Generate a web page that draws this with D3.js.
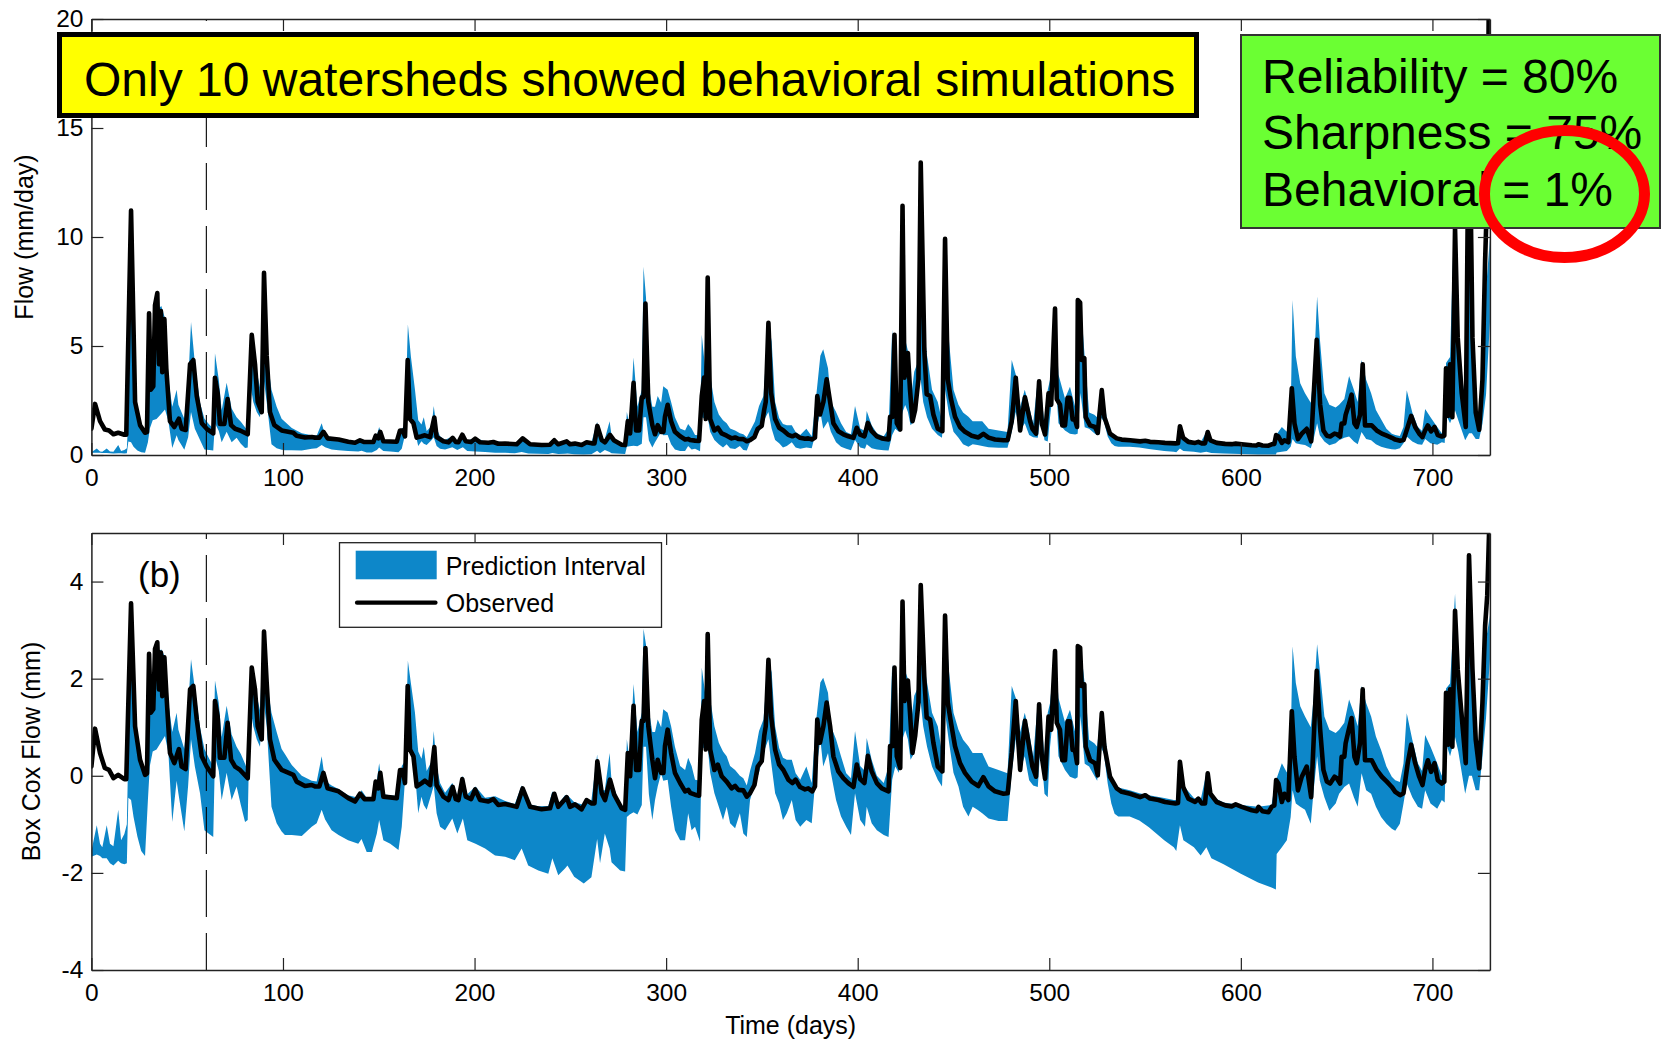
<!DOCTYPE html>
<html>
<head>
<meta charset="utf-8">
<script src="https://cdn.jsdelivr.net/npm/d3@7"></script>
<style>
body { margin: 0; background: #fff; }
svg { display: block; font-family: "Liberation Sans", Arial, sans-serif; }
</style>
</head>
<body>
<svg id="chart" width="1666" height="1041"></svg>
<script>
// values read in Box-Cox space (lambda = 0.3), [day, value]
var observed = [[0,0.19],[1.9,0.97],[4.5,0.47],[7,0.16],[9.2,0.12],[11.5,-0.05],[14,0.02],[17.2,-0.07],[18.2,-0.07],
	[20.7,3.55],[22.8,1.02],[25.4,0.33],[28,0.02],[29,0.05],[30.1,2.51],[31,1.3],[32.3,1.37],[33.2,2.61],[34.4,2.75],
	[35.3,1.78],[36.3,2.54],[37,1.64],[38.1,2.44],[39.1,1.71],[41,0.47],[43.3,0.26],[45.7,0.55],[47.1,0.19],[49.2,0.14],
	[51.5,1.78],[53.2,1.85],[55,1.16],[57.6,0.4],[60.2,0.19],[63.6,-0.01],[64.5,1.54],[65.9,1.23],[67.1,0.37],[69.4,0.37],
	[71.1,1.09],[72.9,0.33],[75,0.19],[77.6,0.12],[81.6,-0.05],[83.7,2.23],[85.4,1.78],[86.8,1.02],[88.9,0.75],[90.1,2.97],
	[91.5,1.92],[93.2,0.75],[95.5,0.33],[99.3,0.12],[105.4,0.02],[107.1,-0.12],[111.5,-0.21],[115,-0.19],[116.7,-0.22],
	[119,-0.22],[121.1,0.06],[123.3,-0.26],[129,-0.32],[134.1,-0.46],[137.6,-0.53],[140.2,-0.37],[142.5,-0.48],[147.2,-0.48],
	[148.4,-0.12],[149.8,-0.26],[150.8,0.06],[152.4,-0.43],[159.4,-0.46],[161.1,0.12],[162.5,0.12],[163.7,-0.15],[165.1,1.85],
	[166.3,0.54],[168.1,0.4],[169.8,-0.22],[172.4,-0.15],[174.1,-0.1],[176.8,-0.19],[179,0.59],[180.2,-0.19],[183.7,-0.43],
	[186.4,-0.5],[188.6,-0.23],[190.2,-0.48],[191.6,-0.5],[193.6,-0.07],[195.4,-0.43],[198.2,-0.48],[200.3,-0.28],[202.9,-0.5],
	[207.2,-0.53],[209.8,-0.48],[212.4,-0.6],[215.9,-0.58],[222,-0.64],[225.1,-0.26],[229,-0.64],[235,-0.69],[239.4,-0.67],
	[241.6,-0.37],[243.7,-0.64],[248.1,-0.44],[249.8,-0.64],[252.4,-0.59],[255.9,-0.69],[258.5,-0.5],[261.2,-0.57],
	[262.6,-0.57],[264.1,0.3],[266.4,-0.36],[268.1,-0.5],[270.7,-0.08],[272.9,-0.39],[276.8,-0.67],[278.6,-0.7],[280,0.47],
	[281.2,-0.01],[283,1.44],[284.3,0.12],[285.9,0.12],[287.3,1.13],[288.2,1.13],[289.2,2.63],[290.7,1.02],[292.8,0.33],
	[294.2,-0.05],[295.6,0.33],[297.4,0.06],[298.6,0.06],[299.4,0.61],[300.8,0.95],[302.6,0.47],[304.6,0.06],[307.3,-0.15],
	[309.9,-0.32],[311.6,-0.29],[312.5,-0.35],[315.1,-0.39],[317.2,-0.41],[318.6,1.16],[319.8,1.54],[320.7,0.54],[321.7,2.92],
	[323,0.54],[325.2,0.12],[327,0.23],[329,-0.01],[331.6,-0.12],[334.2,-0.26],[336,-0.21],[337.7,-0.29],[340.3,-0.3],
	[342.1,-0.43],[343.8,-0.36],[346.1,-0.19],[347.8,0.19],[349.9,0.3],[351.2,0.82],[352,1.02],[353.4,2.39],[354.8,1.23],
	[356.9,0.54],[359,0.23],[361.2,0.12],[363.8,-0.08],[365.9,-0.15],[367.6,-0.08],[369.9,-0.23],[372.5,-0.28],[374.2,-0.26],
	[376.3,-0.32],[377.7,-0.22],[378.9,1.16],[380.3,0.68],[382.1,1.02],[383.8,1.51],[385.6,1.02],[387.3,0.4],[389.9,0.09],
	[392.5,-0.05],[395.1,-0.15],[397.8,-0.23],[399.5,0.23],[401.3,-0.07],[403.5,-0.15],[405.3,0.41],[407.3,0.09],[410,-0.15],
	[412.6,-0.26],[416.1,-0.32],[416.9,0.61],[418.1,0.61],[419.2,2.23],[420.4,0.4],[422.2,0.16],[423.4,3.59],[424.4,1.54],
	[426.2,1.96],[427.3,1.3],[428.6,0.47],[430,0.82],[431.7,1.51],[432.9,3.93],[434.8,1.99],[436,1.2],[437.8,1.16],[439.5,0.68],
	[441.8,0.19],[444.2,0.09],[445.6,3.3],[447,1.51],[448.7,1.09],[450.8,0.61],[453.4,0.26],[456,0.06],[459.5,-0.12],[463,-0.21],
	[465.6,-0.03],[468.3,-0.22],[471.7,-0.32],[476.1,-0.37],[478.3,-0.36],[480.4,0.47],[482.5,1.54],[484.8,0.12],[487.3,1.13],
	[490,0.47],[491.2,0.19],[493.1,-0.02],[494.7,1.47],[496.1,0.39],[497.8,-0.06],[499.6,1.22],[501,0.95],[503,2.57],[503.9,1.09],
	[505.6,0.95],[506.8,0.32],[508.2,0.32],[509.6,1.12],[510.8,1.12],[512.2,0.53],[513.4,0.53],[514.5,0.26],[514.9,2.67],
	[516.1,2.64],[516.9,1.85],[518.3,1.88],[519,0.6],[521.3,0.32],[523.9,0.26],[525.3,0.01],[527.4,1.29],[528.8,0.6],
	[531.7,-0.02],[535.2,-0.26],[537.8,-0.33],[542.2,-0.37],[547.4,-0.44],[550.1,-0.4],[552.6,-0.47],[557,-0.5],[560.4,-0.54],
	[565.8,-0.57],[567.2,-0.56],[568.2,0.29],[569.9,-0.23],[572.6,-0.47],[576.1,-0.54],[577.8,-0.47],[579.6,-0.57],
	[581.3,-0.57],[582.7,0.05],[584.1,-0.37],[587.4,-0.54],[591.8,-0.61],[595.2,-0.63],[597.3,-0.59],[600.5,-0.64],
	[605.7,-0.71],[608.3,-0.73],[609.2,-0.64],[611.3,-0.73],[614.4,-0.75],[616.1,-0.64],[617.5,-0.61],[618.4,-0.09],
	[619.6,-0.16],[621.4,-0.54],[622.7,-0.37],[624.8,-0.5],[626.6,1.33],[628,0.39],[629.8,-0.3],[631.8,-0.02],[634.4,0.19],
	[636.7,-0.44],[639.6,2.16],[641.4,0.95],[643.1,0.12],[644.9,-0.12],[646.6,-0.16],[648.9,-0.02],[650.1,-0.05],[651.8,-0.16],
	[652.6,0.39],[654,0.39],[654.7,0.67],[656.1,0.91],[657.8,1.19],[659.3,0.39],[660.5,0.26],[662.2,0.67],[663.6,1.78],
	[664.8,0.32],[668.3,0.32],[670.9,0.12],[673.6,-0.02],[676.2,-0.12],[678.8,-0.23],[680.6,-0.33],[683.1,-0.4],[684.9,-0.36],
	[687.1,0.26],[688.9,0.64],[691,0.26],[693.1,-0.02],[694.8,-0.19],[696.2,0.12],[697.6,0.32],[699.3,0.08],[701.1,0.26],
	[702.8,-0.09],[704.9,-0.16],[706.2,-0.12],[707.1,1.71],[708.3,0.64],[709.2,1.78],[710.4,0.6],[711.8,3.4],[713.2,2.19],
	[715.3,1.22],[717.4,0.26],[719.1,4.54],[720.9,2.19],[722.6,0.74],[724.4,0.15],[726.1,1.5],[727.5,3.09],[728.6,3.71],[730,5.6]];

// prediction interval, [day, lower, upper] in Box-Cox space
var interval = [[0,-1.67,-1.55],[2.8,-1.62,-1.02],[4.5,-1.65,-1.4],[5.7,-1.7,-1.47],[8,-1.7,-1.02],[9.7,-1.8,-1.4],
	[11.5,-1.85,-1.45],[14,-1.75,-0.7],[15.5,-1.8,-1.33],[17.2,-1.82,-1.2],[18.5,-1.8,-1.0],[19.3,-0.45,0.6],[20.7,-0.5,3.3],
	[22,-0.85,1.6],[24,-1.25,0.75],[26,-1.55,0.35],[28,-1.65,0.1],[29.5,-0.5,0.6],[30.5,0.2,2.0],[32,0.5,1.9],[34,0.54,2.55],
	[36.5,0.7,2.6],[38.4,0.82,2.45],[40.2,0.47,1.5],[42.2,-0.95,0.9],[44.5,-0.1,1.3],[45.4,-0.36,0.95],[48.5,-1.15,0.55],
	[50.5,-0.2,1.4],[52,0.75,2.4],[54,0.19,1.8],[56.7,-0.36,1.0],[59,-1.12,0.55],[61.5,-1.2,0.35],[63.6,-1.26,0.2],
	[64.5,0.4,1.96],[66.5,0.1,1.5],[68,-0.5,0.8],[70.6,0.06,1.44],[73.2,-0.5,0.85],[75.8,-0.22,0.6],[78,-0.6,0.45],
	[80.2,-0.95,0.25],[81.6,-0.91,0.1],[82.8,1.44,2.0],[84.5,1.02,2.2],[86.3,0.75,1.65],[88,0.6,1.35],[89.7,1.58,2.9],
	[91.5,1.02,1.95],[94,-0.64,1.3],[96.7,-0.98,0.9],[99.3,-1.15,0.55],[101,-1.22,0.45],[104.6,-1.22,0.22],[109.8,-1.24,0.0],
	[115,-1.05,-0.1],[117.6,-0.98,-0.12],[120.2,-0.7,0.4],[122,-0.9,-0.1],[125.4,-1.12,-0.2],[129,-1.22,-0.27],[134,-1.33,-0.4],
	[139.3,-1.4,-0.45],[141,-1.3,-0.3],[143.7,-1.57,-0.45],[146.4,-1.57,-0.44],[149,-1.19,-0.1],[150.2,-0.91,0.26],
	[152.4,-1.33,-0.38],[156,-1.4,-0.4],[160.3,-1.53,-0.42],[162,-1.05,0.2],[163.7,-0.08,0.3],[165.2,1.02,2.37],
	[166.8,0.47,1.9],[168.9,0.06,1.3],[170.6,-0.77,0.5],[172.3,-0.43,0.35],[173.5,-0.6,0.6],[175,-0.7,0.1],[177.6,-0.36,0.3],
	[178.7,-0.2,0.92],[180.2,-0.77,0.2],[182,-1.05,-0.15],[184.6,-1.12,-0.35],[188.4,-0.88,-0.15],[191,-1.19,-0.4],
	[193.9,-0.88,0.0],[196.2,-1.33,-0.38],[200.5,-1.4,-0.22],[205.5,-1.5,-0.45],[210.7,-1.64,-0.42],[216,-1.67,-0.52],
	[221,-1.74,-0.58],[224.6,-1.5,-0.2],[228,-1.85,-0.58],[233.3,-1.95,-0.63],[238.5,-2.02,-0.62],[240.6,-1.7,-0.32],
	[243.7,-2.05,-0.58],[247.2,-1.91,-0.4],[248.5,-1.85,-0.4],[252,-2.08,-0.54],[257,-2.22,-0.6],[261,-2.09,-0.5],
	[264,-1.3,0.44],[265.5,-1.8,-0.3],[268,-1.19,-0.3],[270.5,-1.5,0.47],[271.5,-1.78,-0.1],[276,-1.95,-0.6],[278.6,-1.97,-0.64],
	[279.5,-0.85,0.75],[281,-0.8,0.3],[283,-0.75,1.89],[285,-0.8,0.9],[287.3,-0.6,1.3],[288.2,0.6,3.03],[289.5,0.6,2.7],
	[291,-0.38,1.35],[292.8,-0.91,0.9],[294.2,-0.5,0.9],[295.6,-0.22,1.16],[297.4,0.05,1.0],[298.5,-0.1,1.37],[300.8,-0.08,1.3],
	[302.6,-0.64,1.02],[304.6,-1.12,0.6],[307.3,-1.33,0.2],[309.9,-1.33,0.12],[311.5,-0.77,0.37],[313.3,-1.12,0.2],
	[315.1,-1.05,-0.08],[317.7,-1.36,-0.1],[318.6,0.6,2.23],[320.7,0.54,1.6],[321.7,0.6,2.92],[323,0.06,1.58],[325.2,-0.36,1.02],
	[327.5,-0.64,0.68],[329.7,-0.91,0.5],[331.6,-0.64,0.4],[333.4,-0.98,0.2],[336,-1.08,0.12],[338.5,-0.77,0.0],
	[340.3,-1.19,-0.05],[342.1,-1.26,-0.2],[343.8,-0.5,0.1],[346.4,-0.15,0.47],[348.5,0.06,0.92],[350.8,0.47,1.16],
	[353.4,0.75,2.39],[355.1,0.19,2.13],[356.9,-0.36,1.02],[359,-0.57,0.57],[361,-0.91,0.37],[363,-0.77,0.33],[365.6,-0.5,0.33],
	[367.6,-0.91,0.05],[370,-1.05,-0.08],[373.2,-0.91,0.19],[376,-0.98,-0.15],[378.2,0.06,1.1],[380.5,0.75,1.92],
	[382,0.19,2.02],[384.5,0.47,1.71],[386,0.06,1.02],[388.7,-0.5,0.75],[391.3,-0.84,0.4],[394,-1.05,0.05],[396.5,-1.22,-0.05],
	[398.6,-0.36,0.92],[401.3,-0.91,0.2],[403.8,-1.05,0.1],[404.7,-0.64,0.78],[407.3,-0.98,0.33],[410,-1.12,0.0],
	[413.6,-1.22,-0.15],[416.1,-1.26,0.19],[418,-0.08,2.3],[419.6,0.19,1.2],[421.5,0.06,0.6],[423.4,0.75,3.6],[424.8,0.94,2.16],
	[426.2,0.75,2.0],[427.6,0.33,1.02],[429.5,0.47,1.65],[431.2,1.44,1.8],[432.9,1.5,3.9],[434.2,1.02,2.4],[436.2,0.6,1.92],
	[438.8,0.19,1.3],[441.8,-0.08,1.02],[444,-0.22,0.47],[445.6,1.3,3.2],[447.7,0.68,2.13],[450,0.06,1.3],[452.6,-0.22,0.95],
	[455,-0.64,0.74],[457.8,-0.84,0.61],[460,-0.64,0.47],[462.5,-0.7,0.47],[465,-0.77,0.47],[468.3,-0.88,0.19],
	[473.5,-0.93,0.12],[478.2,-0.93,0.05],[480.4,0.06,1.85],[482.5,0.75,1.6],[484.8,0.12,0.9],[487.2,0.4,1.3],[489.5,-0.09,0.9],
	[491.6,-0.2,0.4],[494,-0.23,1.5],[495.5,0.67,1.3],[497.5,-0.37,0.4],[499.2,-0.44,1.3],[500.4,0.6,1.5],[503,1.63,2.57],
	[504.8,0.4,1.6],[508.2,0.12,1.1],[510.8,-0.02,1.36],[513.5,-0.06,0.9],[514.8,-0.03,2.67],[516.3,1.23,2.67],[518.5,0.25,1.9],
	[520.8,0.19,0.74],[523.5,0.0,0.67],[525,-0.1,0.6],[526.8,0.6,1.29],[528.5,0.46,1.05],[530.5,-0.16,0.4],[532.4,-0.57,-0.02],
	[534.1,-0.78,-0.15],[536,-0.84,-0.24],[542,-0.84,-0.3],[547,-0.92,-0.36],[552,-1.06,-0.4],[560,-1.33,-0.46],
	[565,-1.47,-0.5],[566.3,-1.55,-0.5],[568.2,-1.02,0.35],[570,-1.33,-0.2],[575.5,-1.47,-0.46],[579,-1.64,-0.5],
	[582,-1.47,0.05],[584.6,-1.7,-0.42],[591,-1.82,-0.55],[600,-2.02,-0.6],[609,-2.2,-0.64],[616,-2.3,-0.6],[618.3,-2.34,-0.05],
	[618.7,-1.61,-0.05],[621.4,-1.47,0.26],[624,-1.33,0.07],[626,-0.85,0.67],[627,-0.3,2.67],[628.7,-0.57,1.91],[631,-0.64,1.43],
	[633.5,-0.7,1.22],[636.5,-0.99,1.0],[638,-0.3,1.6],[639.8,0.4,2.71],[641.2,-0.1,2.19],[643.6,-0.44,1.22],[646.2,-0.72,0.95],
	[649.5,-0.57,0.88],[651.3,-0.37,0.95],[654,-0.23,1.09],[656.5,-0.16,1.57],[659,-0.44,1.3],[661,-0.64,1.02],[663,0.05,1.85],
	[665.4,-0.3,1.5],[668,-0.37,1.22],[670.5,-0.64,0.81],[673.2,-0.85,0.53],[676,-0.99,0.19],[678.8,-1.09,-0.02],
	[680.6,-1.13,-0.09],[683,-0.99,-0.13],[684.9,-0.57,0.26],[686.6,-0.16,1.29],[689.5,-0.44,0.74],[692.4,-0.64,0.26],
	[694.6,-0.68,0.1],[696.2,-0.3,0.84],[699,-0.57,0.6],[702.5,-0.68,0.26],[704.9,-0.5,0.0],[706.4,-0.55,0.4],[707.1,0.67,1.8],
	[709.2,0.4,1.9],[711.8,0.8,3.75],[713.5,0.5,2.19],[717.1,-0.37,0.94],[719.1,0.0,4.4],[720.6,0.0,2.2],[722.6,-0.3,0.81],
	[724.4,-0.3,0.3],[726.1,0.38,2.0],[728,1.2,2.8],[730,2.4,3.3]];

var dayTicks = [0, 100, 200, 300, 400, 500, 600, 700];
var flowTicks = [0, 5, 10, 15, 20];
var boxCoxTicks = [-4, -2, 0, 2, 4];
var warmupDay = 60;
var lambda = 0.3;

var bannerText = 'Only 10 watersheds showed behavioral simulations';
var scoreLines = ['Reliability = 80%', 'Sharpness = 75%', 'Behavioral = 1%'];
var legendLabels = ['Prediction Interval', 'Observed'];

var blue = '#0d87c9';

function fromBoxCox(z) { return Math.pow(1 + lambda * z, 1 / lambda); }
function same(z) { return z; }

var svg = d3.select('#chart');

var x = d3.scaleLinear().domain([0, 730]).range([91.4, 1489.9]);

var panels = [
	{y: d3.scaleLinear().domain([0, 20]).range([455, 19]), ticks: flowTicks, conv: fromBoxCox,
		label: 'Flow (mm/day)', labelX: 33, dashOffset: 45},
	{y: d3.scaleLinear().domain([-4, 5]).range([970, 533]), ticks: boxCoxTicks, conv: same,
		label: 'Box Cox Flow (mm)', labelX: 40, dashOffset: 41}
];

function styleAxis(sel) {
	sel.attr('font-size', null).attr('font-family', null);
	sel.select('.domain').attr('stroke', '#222').attr('stroke-width', 1.5);
	sel.selectAll('.tick line').attr('stroke', '#222').attr('stroke-width', 1.2);
	sel.selectAll('.tick text').attr('font-size', 24.5).attr('fill', '#000');
}

panels.forEach(function(p, i) {
	var top = p.y.range()[1], bottom = p.y.range()[0];
	var g = svg.append('g');

	g.append('clipPath').attr('id', 'clip' + i)
		.append('rect')
		.attr('x', x(0)).attr('y', top)
		.attr('width', x(730) - x(0)).attr('height', bottom - top);

	var plot = g.append('g').attr('clip-path', 'url(#clip' + i + ')');

	plot.append('path')
		.datum(interval)
		.attr('fill', blue)
		.attr('d', d3.area()
			.x(function(d) { return x(d[0]); })
			.y0(function(d) { return p.y(p.conv(d[1])); })
			.y1(function(d) { return p.y(p.conv(d[2])); }));

	plot.append('line')
		.attr('x1', x(warmupDay)).attr('x2', x(warmupDay))
		.attr('y1', top).attr('y2', bottom)
		.attr('stroke', '#000').attr('stroke-width', 1.1)
		.attr('stroke-dasharray', '47,16')
		.attr('stroke-dashoffset', p.dashOffset);

	plot.append('path')
		.datum(observed)
		.attr('fill', 'none')
		.attr('stroke', '#000')
		.attr('stroke-width', 4.6)
		.attr('stroke-linejoin', 'round')
		.attr('stroke-linecap', 'round')
		.attr('d', d3.line()
			.x(function(d) { return x(d[0]); })
			.y(function(d) { return p.y(p.conv(d[1])); }));

	g.append('g').attr('transform', 'translate(0,' + bottom + ')')
		.call(d3.axisBottom(x).tickValues(dayTicks).tickSize(-12).tickSizeOuter(0).tickPadding(14))
		.call(styleAxis);
	g.append('g').attr('transform', 'translate(0,' + top + ')')
		.call(d3.axisTop(x).tickValues(dayTicks).tickSize(-12).tickSizeOuter(0).tickFormat(''))
		.call(styleAxis);
	g.append('g').attr('transform', 'translate(' + x(0) + ',0)')
		.call(d3.axisLeft(p.y).tickValues(p.ticks).tickSize(-12).tickSizeOuter(0).tickPadding(8)
			.tickFormat(function(d) { return String(d); }))
		.call(styleAxis);
	g.append('g').attr('transform', 'translate(' + x(730) + ',0)')
		.call(d3.axisRight(p.y).tickValues(p.ticks).tickSize(-12).tickSizeOuter(0).tickFormat(''))
		.call(styleAxis);

	g.append('text')
		.attr('transform', 'translate(' + p.labelX + ',' + (top + bottom) / 2 + ') rotate(-90)')
		.attr('text-anchor', 'middle')
		.attr('font-size', 25)
		.text(p.label);
});

svg.append('text')
	.attr('x', (x(0) + x(730)) / 2).attr('y', 1034)
	.attr('text-anchor', 'middle')
	.attr('font-size', 25)
	.text('Time (days)');

// (b) tag and legend of the lower panel
svg.append('text').attr('x', 138).attr('y', 587).attr('font-size', 35).text('(b)');

var legend = svg.append('g');
legend.append('rect')
	.attr('x', 339.5).attr('y', 542.7).attr('width', 322).attr('height', 84.6)
	.attr('fill', '#fff').attr('stroke', '#222').attr('stroke-width', 1.3);
legend.append('rect')
	.attr('x', 355.7).attr('y', 550.7).attr('width', 81).attr('height', 28.6)
	.attr('fill', blue);
legend.append('line')
	.attr('x1', 357).attr('x2', 435.5).attr('y1', 602.7).attr('y2', 602.7)
	.attr('stroke', '#000').attr('stroke-width', 4.2).attr('stroke-linecap', 'round');
legend.selectAll('text.lbl')
	.data(legendLabels)
	.enter().append('text')
	.attr('class', 'lbl')
	.attr('x', 445.7)
	.attr('y', function(d, i) { return 575 + i * 37.3; })
	.attr('font-size', 25)
	.text(function(d) { return d; });

// yellow banner
svg.append('rect')
	.attr('x', 59.5).attr('y', 34.5).attr('width', 1137).attr('height', 81)
	.attr('fill', '#ffff00').attr('stroke', '#000').attr('stroke-width', 5);
svg.append('text')
	.attr('x', 84).attr('y', 96)
	.attr('font-size', 48)
	.text(bannerText);

// green score box
svg.append('rect')
	.attr('x', 1241).attr('y', 35).attr('width', 419).attr('height', 193)
	.attr('fill', '#6bff33').attr('stroke', '#333').attr('stroke-width', 2);
svg.selectAll('text.score')
	.data(scoreLines)
	.enter().append('text')
	.attr('class', 'score')
	.attr('x', 1262)
	.attr('y', function(d, i) { return 92.5 + i * 56.8; })
	.attr('font-size', 48)
	.text(function(d) { return d; });

svg.append('ellipse')
	.attr('cx', 1564.5).attr('cy', 194).attr('rx', 80).attr('ry', 63.5)
	.attr('fill', 'none').attr('stroke', '#ff0000').attr('stroke-width', 11);
</script>
</body>
</html>
